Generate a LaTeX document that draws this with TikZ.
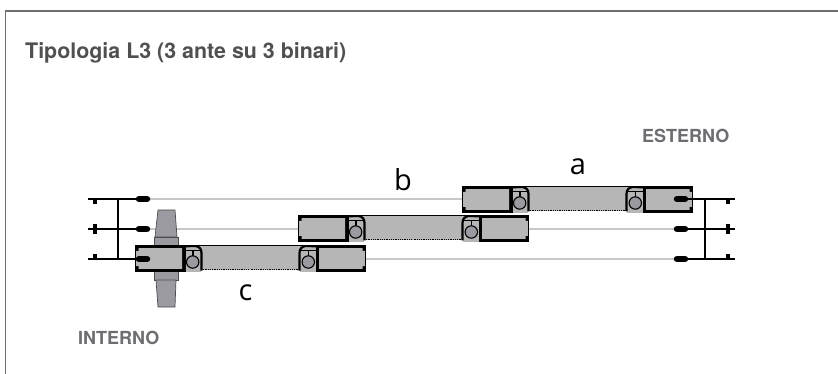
\documentclass[tikz,border=0pt]{standalone}
\usepackage{fontspec}
\setmainfont{TeX Gyre Heros}
\newfontfamily\letterfont{Open Sans}
\definecolor{frameGray}{HTML}{6E6E6E}
\definecolor{titleGray}{HTML}{505050}
\definecolor{sideGray}{HTML}{6D6E71}
\definecolor{sashGray}{HTML}{B6B6B6}
\definecolor{railGray}{HTML}{C8C8C8}
\definecolor{knobGray}{HTML}{9A9AA0}
\newcommand{\halfsash}{
    % box, bearing and half of the middle
    \fill[sashGray] (66,0) rectangle (116,25);
    \fill[sashGray] (49,0) rectangle (66,27);
    \draw[line width=0.9pt] (49,0.5) -- (116,0.5);
    \draw[line width=0.8pt, densely dotted] (66,24.8) -- (116,24.8);
    \fill (0,0) rectangle (50.5,27);
    \fill[sashGray] (3.5,3.2) -- (47,3.2) -- (47,23.8) -- (3.5,23.8) -- (3.5,21) -- (1.2,21) -- (1.2,6) -- (3.5,6) -- cycle;
    \draw[line width=2.2pt] (66.5,25.5) -- (66.5,8) .. controls (66.5,3.5) and (64,1.2) .. (60,1.2) -- (50,1.2);
    \fill[sashGray] (53,5) -- (55,2.4) -- (61,2.4) -- (63,5) -- cycle;
    \draw[line width=1.3pt] (50.5,5.8) -- (65,5.8);
    \draw[line width=1.6pt] (57.7,5.8) -- (57.7,11);
    \draw[line width=1.1pt, fill=knobGray] (57.7,17) circle (6.2);
}
\tikzset{
    sash/.pic={
        \halfsash
        \begin{scope}[shift={(231,0)}, xscale=-1]
            \halfsash
        \end{scope}
    }
}
\begin{document}
\begin{tikzpicture}[x=1pt, y=-1pt, rail/.style={railGray, line width=1.6pt}, bar/.style={line width=2.6pt}, blob/.style={line width=6.5pt, line cap=round}, tick/.style={line width=4pt}, knob/.style={fill=knobGray, draw=black!70, line width=0.7pt}, heading/.style={font=\bfseries\fontsize{21.4}{24}\selectfont, text=titleGray, anchor=base west, inner sep=0pt}, side/.style={font=\bfseries\fontsize{18}{20}\selectfont, text=sideGray, anchor=base west, inner sep=0pt}, letter/.style={font=\letterfont\fontsize{29}{32}\selectfont, anchor=base, inner sep=0pt}]
            \useasboundingbox (0,0) rectangle (838,374);
            % frame
            \coordinate (fa) at (5.5,374);
            \coordinate (fb) at (5.5,11);
            \coordinate (fc) at (838,11);
            \draw[frameGray, line width=1.3pt] (fa) -- (fb) -- (fc);
            % text
            \node[heading] (title) at (25,59) {Tipologia L3 (3 ante su 3 binari)};
            \node[side] (esterno) at (642,143) {ESTERNO};
            \node[side] (interno) at (78,344) {INTERNO};
            \node[letter] (a) at (578,175) {a};
            \node[letter] (b) at (403,191) {b};
            \node[letter] (c) at (245.5,300) {c};
            % rails
            \coordinate (l1) at (150,199);
            \coordinate (l2) at (150,229);
            \coordinate (l3) at (150,259);
            \coordinate (r1) at (688,199);
            \coordinate (r2) at (688,229);
            \coordinate (r3) at (688,259);
            \draw[rail] (l1) -- (r1);
            \draw[rail] (l2) -- (r2);
            \draw[rail] (l3) -- (r3);
            % handle
            \draw[knob] (158,210) -- (175,210) -- (177,237) -- (155,237) -- cycle;
            \draw[knob] (154,237) rectangle (178,246);
            \draw[knob] (154,271) rectangle (178,280);
            \draw[knob] (156,280) -- (176,280) -- (175,307) -- (158,307) -- cycle;
            % sashes
            \pic at (135,245) {sash};
            \pic at (298,215) {sash};
            \pic at (462,186) {sash};
            % fixtures
            \coordinate (la) at (88,199);
            \coordinate (lb) at (88,229);
            \coordinate (lc) at (88,259);
            \coordinate (ra) at (735,199);
            \coordinate (rb) at (735,229);
            \coordinate (rc) at (735,259);
            \foreach \n in {1,2,3} {
                \draw[blob] ([xshift=-11pt]l\n) -- ([xshift=-3pt]l\n);
                \draw[blob] ([xshift=-11pt]r\n) -- ([xshift=-3pt]r\n);
            }
            \draw[bar] (la) -- (l1);
            \draw[bar] (lb) -- (l2);
            \draw[bar] (lc) -- (l3);
            \draw[bar] (ra) -- ([xshift=-8pt]r1);
            \draw[bar] (rb) -- ([xshift=-8pt]r2);
            \draw[bar] (rc) -- ([xshift=-8pt]r3);
            \draw[line width=2.4pt] (118,198) -- (118,260);
            \draw[line width=2.4pt] (705,198) -- (705,260);
            \draw[tick] (95,199) -- (95,204);
            \draw[tick] (95,224) -- (95,234);
            \draw[tick] (95,254) -- (95,259);
            \draw[tick] (728,199) -- (728,204);
            \draw[tick] (728,224) -- (728,234);
            \draw[tick] (728,254) -- (728,259);
        \end{tikzpicture}
\end{document}
